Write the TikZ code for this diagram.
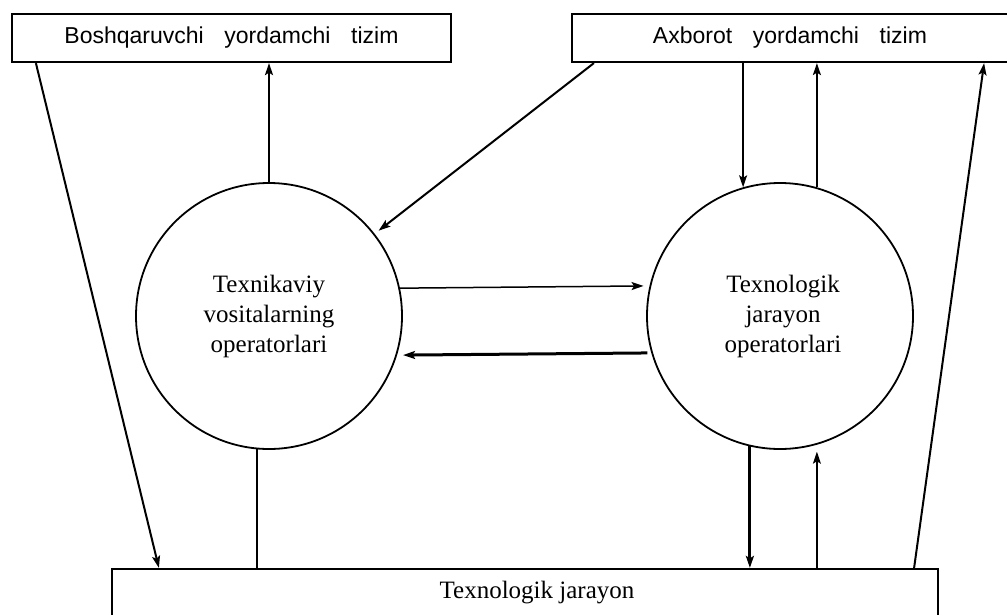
\documentclass[tikz,border=0pt]{standalone}
\usepackage{fontspec}
\setmainfont{Liberation Serif}
\newfontfamily\boxsans{Liberation Sans}
\usetikzlibrary{arrows.meta}
\begin{document}
\begin{tikzpicture}[x=1pt,y=-1pt,
  topbox/.style={draw, line width=2.2pt, minimum height=48pt, inner sep=0pt,
    font=\boxsans\fontsize{23}{27}\selectfont},
  op/.style={draw, circle, line width=1.8pt, minimum size=266pt, inner sep=0pt,
    align=center, font=\fontsize{25}{30}\selectfont},
  basebox/.style={draw, line width=2.2pt, minimum height=48pt, inner sep=0pt,
    font=\fontsize{25}{30}\selectfont},
  ln/.style={line width=2pt},
  lnthin/.style={line width=1.5pt},
  lnthick/.style={line width=3pt},
  arr/.style={-{Stealth[length=12pt,width=8pt,inset=2.5pt]}}]
\useasboundingbox (0,0) rectangle (1007,614);
\clip (0,0) rectangle (1007,614);

\node[topbox, minimum width=439pt] (TL) at (231.5,38) {Boshqaruvchi\hspace{0.9em}yordamchi\hspace{0.9em}tizim};
\node[topbox, minimum width=436pt] (TR) at (790,38) {Axborot\hspace{0.9em}yordamchi\hspace{0.9em}tizim};
\node[op] (L) at (269,316) {Texnikaviy\\vositalarning\\operatorlari};
\node[op] (R) at (780,316) {\hspace*{6pt}Texnologik\\\hspace*{6pt}jarayon\\\hspace*{6pt}operatorlari};
\node[basebox, minimum width=826pt] (B) at (525,593) {\hspace*{24pt}Texnologik jarayon};

\draw[ln, arr] (L.north) -- (L.north |- TL.south);
\draw[ln, arr] ([xshift=25pt]TL.south west) -- ([xshift=48pt]B.north west);
\draw[ln, arr, shorten >=5pt] ([xshift=23pt]TR.south west) -- (L);
\draw[lnthin, arr] (R.106 |- TR.south) -- (R.106);
\draw[lnthin, arr] (R.74) -- (R.74 |- TR.south);
\draw[ln, arr] ([xshift=-25pt]B.north east) -- ([xshift=-25pt]TR.south east);
\draw[lnthin, arr, shorten >=6pt] (L.12.6) -- (R.167.4);
\draw[lnthick, arr, shorten >=6pt, shorten <=4pt] (R.196.2) -- (L.343.8);
\draw[ln] (L.265) -- (L.265 |- B.north);
\draw[lnthick, arr] (R.257) -- (R.257 |- B.north);
\draw[lnthin, arr, shorten >=7pt] (R.286 |- B.north) -- (R.286);
\end{tikzpicture}
\end{document}
